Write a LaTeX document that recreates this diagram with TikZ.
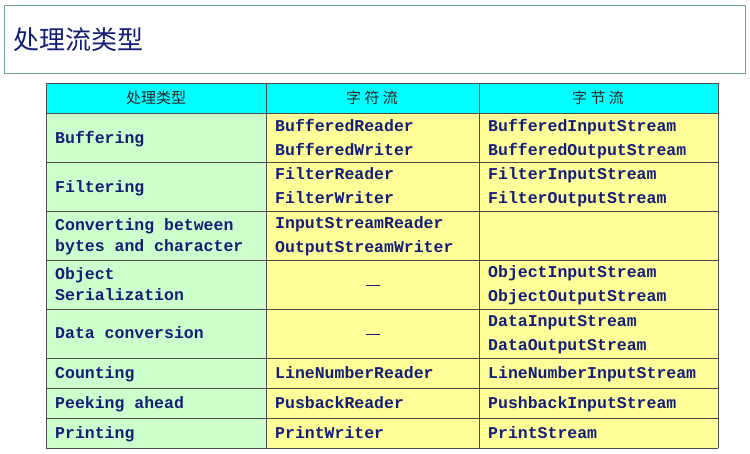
\documentclass[tikz,border=0pt]{standalone}
\usepackage{fontspec}
\setmonofont{Liberation Mono}
\newfontfamily\cjk{Noto Sans CJK SC}
\definecolor{ink}{RGB}{20,30,120}
\definecolor{hdr}{RGB}{0,255,255}
\definecolor{grn}{RGB}{204,255,204}
\definecolor{yel}{RGB}{255,255,153}
\definecolor{frame}{RGB}{110,160,160}
\begin{document}
\begin{tikzpicture}[x=1pt,y=-1pt,
  txt/.style={font=\ttfamily\bfseries\fontsize{16.5}{16.5}\selectfont,text=ink,anchor=base west,inner sep=0,yshift=-5pt},
  hd/.style={font=\cjk\fontsize{15}{15}\selectfont,text=black!85,inner sep=0},
  cell/.style={draw=black!70,line width=0.6pt}]
\useasboundingbox (0,0) rectangle (750,453);
\draw[frame,line width=0.8pt] (4,5) rectangle (745,73);
\node[font=\cjk\fontsize{26}{26}\selectfont,text=ink,anchor=west,inner sep=0] (title) at (13,40) {处理流类型};
% fills
\fill[hdr] (46,83) rectangle (718,113);
\fill[grn] (46,113) rectangle (266,448);
\fill[yel] (266,113) rectangle (718,448);
\foreach \y in {83,113,162,211,260,309,358,388,418,448} \draw[cell] (46,\y) -- (718,\y);
\foreach \x in {46,266,479,718} \draw[cell] (\x,83) -- (\x,448);
\node[hd] (h1) at (156,98) {处理类型};
\node[hd] (h2) at (372,98) {字\ 符\ 流};
\node[hd] (h3) at (598,98) {字\ 节\ 流};
% col 1
\node[txt] (a1) at (55,138) {Buffering};
\node[txt] (a2) at (55,187) {Filtering};
\node[txt] (a3a) at (55,225) {Converting between};
\node[txt] (a3b) at (55,246) {bytes and character};
\node[txt] (a4a) at (55,274) {Object};
\node[txt] (a4b) at (55,295) {Serialization};
\node[txt] (a5) at (55,333) {Data conversion};
\node[txt] (a6) at (55,373) {Counting};
\node[txt] (a7) at (55,403) {Peeking ahead};
\node[txt] (a8) at (55,433) {Printing};
% col 2
\node[txt] (b1a) at (275,126) {BufferedReader};
\node[txt] (b1b) at (275,150) {BufferedWriter};
\node[txt] (b2a) at (275,174) {FilterReader};
\node[txt] (b2b) at (275,198) {FilterWriter};
\node[txt] (b3a) at (275,223) {InputStreamReader};
\node[txt] (b3b) at (275,247) {OutputStreamWriter};
\node[fill=ink,minimum width=14pt,minimum height=1pt,inner sep=0] (b4) at (373,285) {};
\node[fill=ink,minimum width=14pt,minimum height=1pt,inner sep=0] (b5) at (373,334) {};
\node[txt] (b6) at (275,373) {LineNumberReader};
\node[txt] (b7) at (275,403) {PusbackReader};
\node[txt] (b8) at (275,433) {PrintWriter};
% col 3
\node[txt] (c1a) at (488,126) {BufferedInputStream};
\node[txt] (c1b) at (488,150) {BufferedOutputStream};
\node[txt] (c2a) at (488,174) {FilterInputStream};
\node[txt] (c2b) at (488,198) {FilterOutputStream};
\node[txt] (c4a) at (488,272) {ObjectInputStream};
\node[txt] (c4b) at (488,296) {ObjectOutputStream};
\node[txt] (c5a) at (488,321) {DataInputStream};
\node[txt] (c5b) at (488,345) {DataOutputStream};
\node[txt] (c6) at (488,373) {LineNumberInputStream};
\node[txt] (c7) at (488,403) {PushbackInputStream};
\node[txt] (c8) at (488,433) {PrintStream};
\end{tikzpicture}
\end{document}
